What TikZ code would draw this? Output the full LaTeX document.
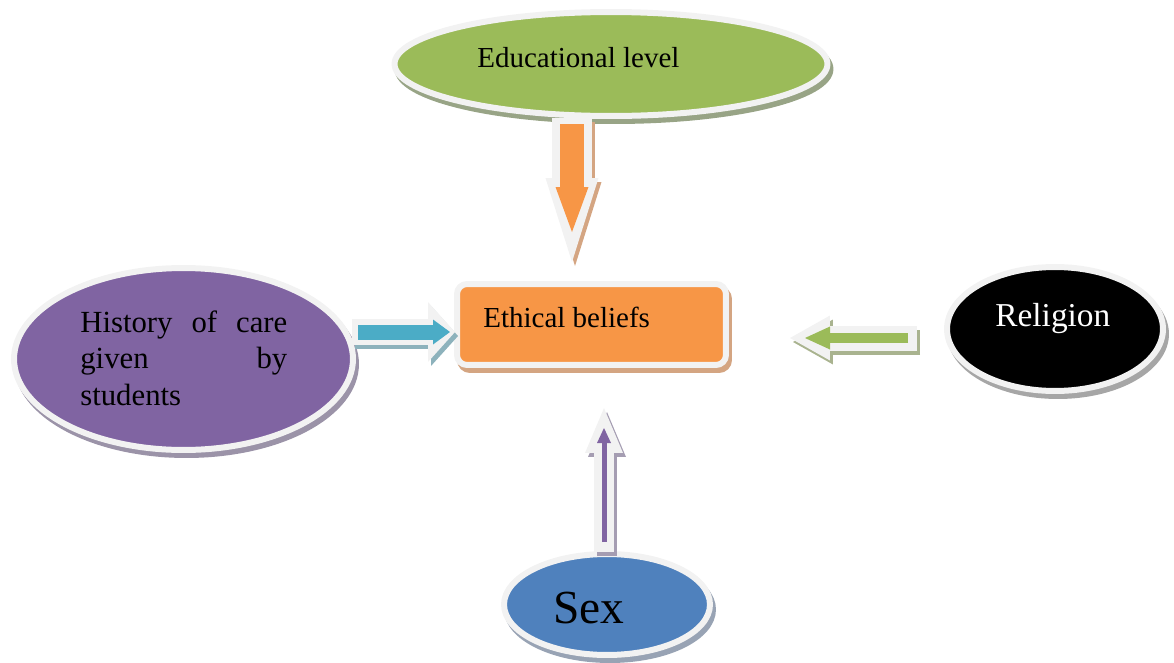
\documentclass[tikz,border=0pt]{standalone}
\usepackage{fontspec}
\setmainfont{Liberation Serif}
\usetikzlibrary{shapes.geometric,arrows.meta,shadows}

\definecolor{rim}{HTML}{F2F2F2}
\definecolor{edugreen}{HTML}{9BBB59}
\definecolor{edushade}{HTML}{98A486}
\definecolor{ethorange}{HTML}{F79646}
\definecolor{ethshade}{HTML}{D4A582}
\definecolor{histpurple}{HTML}{8064A2}
\definecolor{histshade}{HTML}{9B93A8}
\definecolor{relshade}{HTML}{A6A6A6}
\definecolor{sexblue}{HTML}{4F81BD}
\definecolor{sexshade}{HTML}{98A3B4}
\definecolor{careblue}{HTML}{4BACC6}
\definecolor{careshade}{HTML}{8DB2BC}
\definecolor{faithgreen}{HTML}{9BBB59}
\definecolor{faithshade}{HTML}{A9B38F}
\definecolor{sexarrshade}{HTML}{A59DB2}

\begin{document}
\begin{tikzpicture}[x=0.02cm,y=-0.02cm,
  oval/.style={ellipse,draw=rim,line width=0.12cm,inner sep=0pt},
  box/.style={rectangle,rounded corners=0.2cm,draw=rim,line width=0.12cm,inner sep=0pt},
  cast/.style={drop shadow={shadow xshift=0.06cm,shadow yshift=-0.1cm,opacity=1,fill=#1,draw=#1}},
  word/.style={inner sep=0pt,anchor=base west},
  thick arrow/.style n args={3}{line width=#1,-{Triangle[width=#2,length=#3,line width=0pt]}},
  cast arrow/.style={color=#1,transform canvas={shift={(3,4)}}}
]
\useasboundingbox (0,0) rectangle (1174,663);

% the five factors
\node[oval,fill=edugreen,cast=edushade,minimum width=8.66cm,minimum height=2.08cm] (edu) at (611,64) {};
\node[box,fill=ethorange,cast=ethshade,minimum width=5.38cm,minimum height=1.62cm] (eth) at (591.5,324.5) {};
\node[oval,fill=histpurple,cast=histshade,minimum width=6.78cm,minimum height=3.64cm] (hist) at (183.5,359) {};
\node[oval,fill=black,cast=relshade,minimum width=4.32cm,minimum height=2.48cm] (rel) at (1055,329) {};
\node[oval,fill=sexblue,cast=sexshade,minimum width=4.12cm,minimum height=2.02cm] (sex) at (607,604.5) {};

\node[word,font=\fontsize{16.5}{20}\selectfont] (edutext) at (477,67) {Educational level};
\node[word,font=\fontsize{16.5}{20}\selectfont] (ethtext) at (483,327) {Ethical beliefs};
\node[word,text=white,font=\fontsize{19}{23}\selectfont] (reltext) at (995,326) {Religion};
\node[word,font=\fontsize{27}{32}\selectfont] (sextext) at (553,623) {Sex};
\node[word,font=\fontsize{17.5}{21}\selectfont] (histtext) at (80,332)
  {\parbox[t]{4.14cm}{\makebox[\linewidth][s]{History of care}\\\makebox[\linewidth][s]{given by}\\students}};

% block arrows
\coordinate (edubase) at (572,118);
\coordinate (edutip)  at (572,262);
\coordinate (educore) at (572,124);
\coordinate (eduhead) at (572,232);
\draw[cast arrow=ethshade,thick arrow={0.8cm}{1.06cm}{1.68cm}] (edubase) -- (edutip);
\draw[rim,thick arrow={0.8cm}{1.06cm}{1.68cm}] (edubase) -- (edutip);
\draw[ethorange,thick arrow={0.48cm}{0.66cm}{0.9cm}] (educore) -- (eduhead);

\coordinate (histbase) at (352,332);
\coordinate (histtip)  at (455,332);
\coordinate (histcore) at (358,332);
\coordinate (histhead) at (450,332);
\draw[cast arrow=careshade,thick arrow={0.52cm}{1.2cm}{0.54cm}] (histbase) -- (histtip);
\draw[rim,thick arrow={0.52cm}{1.2cm}{0.54cm}] (histbase) -- (histtip);
\draw[careblue,thick arrow={0.3cm}{0.5cm}{0.34cm}] (histcore) -- (histhead);

\coordinate (relbase) at (917,338);
\coordinate (reltip)  at (790,338);
\coordinate (relcore) at (908,338);
\coordinate (relhead) at (805,338);
\draw[cast arrow=faithshade,thick arrow={0.5cm}{0.9cm}{0.8cm}] (relbase) -- (reltip);
\draw[rim,thick arrow={0.5cm}{0.9cm}{0.8cm}] (relbase) -- (reltip);
\draw[faithgreen,thick arrow={0.2cm}{0.46cm}{0.5cm}] (relcore) -- (relhead);

\coordinate (sexbase) at (604,552);
\coordinate (sextip)  at (604,408);
\coordinate (sexcore) at (604,542);
\coordinate (sexhead) at (604,428);
\draw[cast arrow=sexarrshade,thick arrow={0.4cm}{0.76cm}{0.9cm}] (sexbase) -- (sextip);
\draw[rim,thick arrow={0.4cm}{0.76cm}{0.9cm}] (sexbase) -- (sextip);
\draw[histpurple,thick arrow={0.1cm}{0.28cm}{0.3cm}] (sexcore) -- (sexhead);
\end{tikzpicture}
\end{document}
